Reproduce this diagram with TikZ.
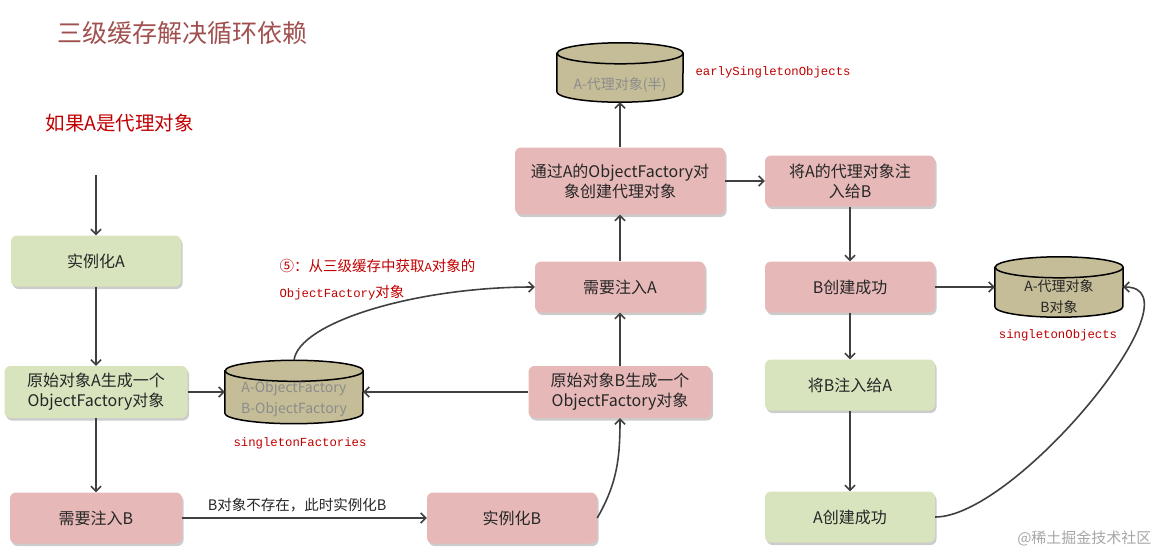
\documentclass[tikz,border=0pt]{standalone}
\usepackage{fontspec}
\setmainfont{Noto Sans CJK SC}
\setmonofont{Liberation Mono}
\usetikzlibrary{shadows,arrows.meta}

\definecolor{boxpink}{HTML}{E6B9B8}
\definecolor{boxgreen}{HTML}{D7E4BD}
\definecolor{storetan}{HTML}{C4BD97}
\definecolor{labelred}{HTML}{C00000}
\definecolor{titlered}{HTML}{A0504F}
\definecolor{linegray}{HTML}{404040}

\newcommand\codetext[1]{{\fontsize{12.3}{16}\selectfont\ttfamily #1}}

% cylinder round a (rectangle) store node: name, x radius
\newcommand\drawstore[2]{%
  \filldraw[storeline] ([yshift=-10.5pt]#1.north west) -- ([yshift=10.5pt]#1.south west)
    arc[start angle=180, end angle=360, x radius=#2, y radius=10.5]
    -- ([yshift=-10.5pt]#1.north east)
    arc[start angle=0, end angle=180, x radius=#2, y radius=10.5] -- cycle;
  \draw[storeline] ([yshift=-10.5pt]#1.north east)
    arc[start angle=0, end angle=-180, x radius=#2, y radius=10.5];
}

\tikzset{
  stepbox/.style={rounded corners=6pt, minimum width=170pt, minimum height=51pt,
    align=center, font=\fontsize{16}{20}\selectfont, text=black!85,
    drop shadow={shadow xshift=1.5pt, shadow yshift=-2.5pt, fill=black!40, opacity=.5}},
  pinkbox/.style={stepbox, fill=boxpink},
  greenbox/.style={stepbox, fill=boxgreen},
  store/.style={inner sep=0pt},
  storeline/.style={draw=black, line width=1.5pt, fill=storetan},
  storetext/.style={align=center, font=\fontsize{14}{21}\selectfont, text=black!45},
  storename/.style={text=labelred, font=\ttfamily\fontsize{12.3}{14}\selectfont},
  note/.style={anchor=west, text=labelred, font=\fontsize{14.5}{16}\selectfont},
  flow/.style={-{Straight Barb[length=5pt,width=10pt]}, line width=1.6pt, draw=linegray},
}

\begin{document}
\begin{tikzpicture}[x=1pt,y=1pt]
  \useasboundingbox (0,0) rectangle (1160,-554);

  %%%%%%%%%%%%%%%%%%%%%%%%%%%%%%%%%%%%%%%%%%%%%%%%%%%%%%%%%%%%%%%%%%%%%%%%%%%
  %%%%  Titles
  \node[anchor=west, text=titlered, font=\fontsize{25}{28}\selectfont] (title) at (54,-33) {三级缓存解决循环依赖};
  \node[anchor=west, text=labelred, font=\fontsize{19.5}{22}\selectfont] (cond) at (42,-123) {如果A是代理对象};

  %%%%%%%%%%%%%%%%%%%%%%%%%%%%%%%%%%%%%%%%%%%%%%%%%%%%%%%%%%%%%%%%%%%%%%%%%%%
  %%%%  A side
  \coordinate (start) at (96,-175);
  \node[greenbox] (instA) at (96,-261) {实例化A};
  \node[greenbox, minimum width=183pt, minimum height=52pt] (origA) at (96,-392) {原始对象A生成一个\\ObjectFactory对象};
  \node[pinkbox, minimum width=172pt] (needB) at (96,-518) {需要注入B};

  \node[store, minimum width=138pt, minimum height=63pt] (sf) at (294,-392) {};
  \drawstore{sf}{69}
  \node[storetext] (sftext) at ([yshift=-7.5pt]sf.center) {A-ObjectFactory\\B-ObjectFactory};
  \node[storename] (sfname) at (300,-443) {singletonFactories};

  %%%%%%%%%%%%%%%%%%%%%%%%%%%%%%%%%%%%%%%%%%%%%%%%%%%%%%%%%%%%%%%%%%%%%%%%%%%
  %%%%  B side
  \node[pinkbox] (instB) at (512,-518) {实例化B};
  \node[pinkbox, minimum width=183pt, minimum height=52pt] (origB) at (620,-392) {原始对象B生成一个\\ObjectFactory对象};
  \node[pinkbox] (needA) at (620,-287) {需要注入A};
  \node[pinkbox, minimum width=210pt, minimum height=67pt] (proxyA) at (620,-181) {通过A的ObjectFactory对\\象创建代理对象};

  \node[store, minimum width=126pt, minimum height=59pt] (eso) at (620,-72.5) {};
  \drawstore{eso}{63}
  \node[storetext] (esotext) at ([yshift=-12pt]eso.center) {A-代理对象(半)};
  \node[storename, anchor=west] (esoname) at (692,-72) {earlySingletonObjects};

  \node[note] (fetch1) at (276,-266) {⑤：从三级缓存中获取\codetext{A}对象的};
  \node[note] (fetch2) at (276,-293) {\codetext{ObjectFactory}对象};

  %%%%%%%%%%%%%%%%%%%%%%%%%%%%%%%%%%%%%%%%%%%%%%%%%%%%%%%%%%%%%%%%%%%%%%%%%%%
  %%%%  finishing
  \node[pinkbox] (injA) at (850,-181) {将A的代理对象注\\入给B};
  \node[pinkbox] (Bdone) at (850,-287) {B创建成功};
  \node[greenbox] (injB) at (850,-385) {将B注入给A};
  \node[greenbox] (Adone) at (850,-517) {A创建成功};

  \node[store, minimum width=128pt, minimum height=60pt] (so) at (1059,-287) {};
  \drawstore{so}{64}
  \node[storetext, text=black!85] (sotext) at ([yshift=-10pt]so.center) {A-代理对象\\B对象};
  \node[storename] (soname) at (1058,-335) {singletonObjects};

  \node[anchor=east, text=black!35, font=\fontsize{15}{18}\selectfont] (mark) at (1155,-538) {@稀土掘金技术社区};

  %%%%%%%%%%%%%%%%%%%%%%%%%%%%%%%%%%%%%%%%%%%%%%%%%%%%%%%%%%%%%%%%%%%%%%%%%%%
  %%%%  connectors
  \draw[flow] (start) -- (instA);
  \draw[flow] (instA) -- (origA);
  \draw[flow] (origA) -- (needB);
  \draw[flow] (origA) -- (sf);
  \draw[flow] (needB) -- node[pos=.47, above=2pt, font=\fontsize{14.5}{16}\selectfont, text=black!85] {B对象不存在，此时实例化B} (instB);
  \draw[flow] (instB.east) to[out=60,in=-90] (origB.south);
  \draw[flow] (origB) -- (sf);
  \draw[flow] (origB) -- (needA);
  \draw[flow] (needA) -- (proxyA);
  \draw[flow] (proxyA) -- (eso);
  \draw[flow] (sf.north) to[out=83,in=180,out distance=38pt,in distance=120pt] (needA.west);
  \draw[flow] (proxyA) -- (injA);
  \draw[flow] (injA) -- (Bdone);
  \draw[flow] (Bdone) -- (so);
  \draw[flow] (Bdone) -- (injB);
  \draw[flow] (injB) -- (Adone);
  \draw[flow] (Adone.east) to[out=0,in=0,looseness=0.7] (so.east);
\end{tikzpicture}
\end{document}
